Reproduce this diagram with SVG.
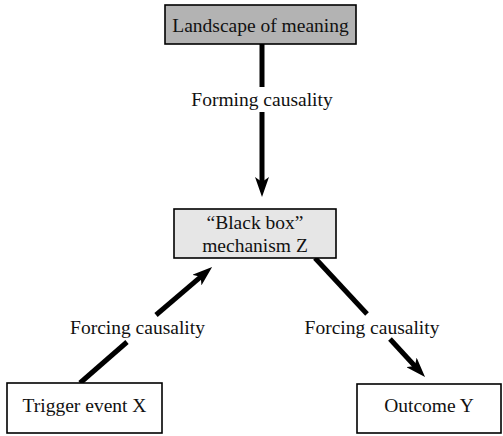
<svg xmlns="http://www.w3.org/2000/svg" width="503" height="436" viewBox="0 0 503 436">
<style>
.box{stroke:#000;stroke-width:1.6}
.t{font-family:"Liberation Serif","Times New Roman",serif;font-size:19.5px;fill:#111;text-anchor:middle}
.c{stroke:#000;stroke-width:5;fill:none}
</style>
<defs>
<marker id="ah" markerUnits="userSpaceOnUse" markerWidth="20" markerHeight="14" refX="8" refY="7" orient="auto" viewBox="0 0 20 14">
<path d="M0,0 L20,7 L0,14 L5,7 z" fill="#000"/>
</marker>
</defs>
<rect width="503" height="436" fill="#fff"/>
<g id="connectors">
<line class="c" x1="262" y1="44" x2="262" y2="87"/>
<line class="c" x1="262" y1="112" x2="262" y2="185" marker-end="url(#ah)"/>
<line class="c" x1="80" y1="383" x2="127" y2="342"/>
<line class="c" x1="156" y1="315" x2="203" y2="274.9" marker-end="url(#ah)"/>
<line class="c" x1="315" y1="258" x2="367" y2="314"/>
<line class="c" x1="390" y1="339" x2="416.9" y2="368.2" marker-end="url(#ah)"/>
<text class="t" x="262" y="106">Forming causality</text>
<text class="t" x="137.5" y="334">Forcing causality</text>
<text class="t" x="372" y="334">Forcing causality</text>
</g>
<g id="landscape">
<rect class="box" x="165" y="5" width="191" height="39" fill="#b3b3b3"/>
<text class="t" x="260.5" y="32">Landscape of meaning</text>
</g>
<g id="blackbox">
<rect class="box" x="174" y="209" width="162" height="49" fill="#e6e6e6"/>
<text class="t" x="255" y="229">“Black box”</text>
<text class="t" x="255" y="252">mechanism Z</text>
</g>
<g id="trigger">
<rect class="box" x="7" y="383" width="155" height="50" fill="#fff"/>
<text class="t" x="84.5" y="412">Trigger event X</text>
</g>
<g id="outcome">
<rect class="box" x="357" y="384" width="144" height="49" fill="#fff"/>
<text class="t" x="429" y="412">Outcome Y</text>
</g>
</svg>
